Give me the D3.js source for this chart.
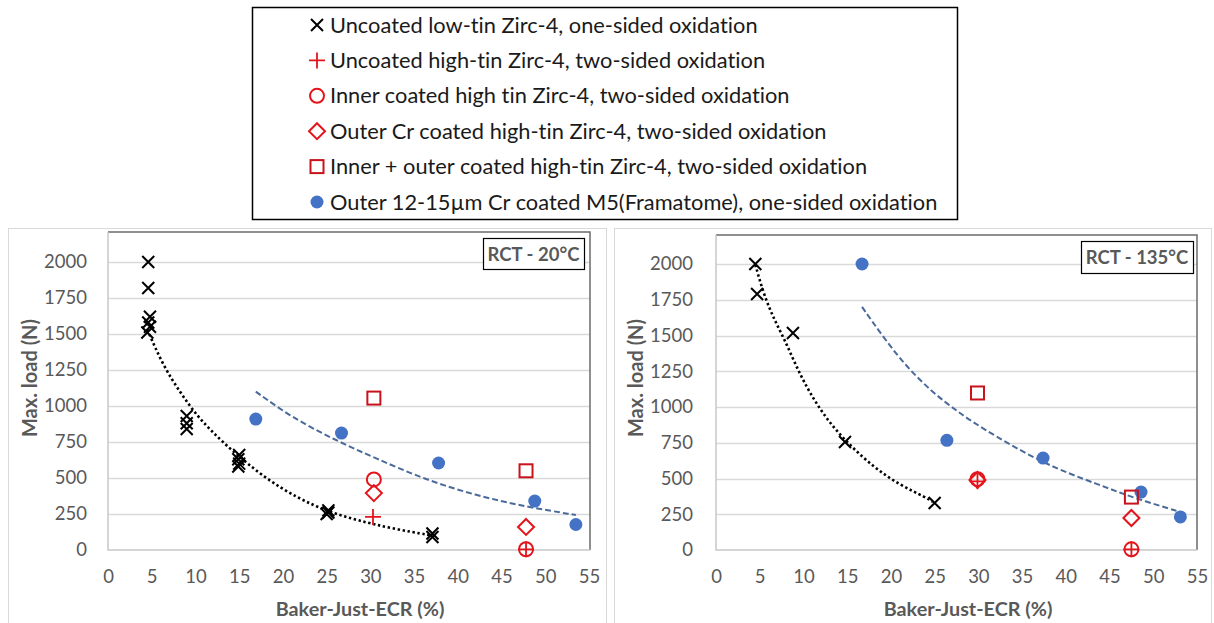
<!DOCTYPE html>
<html>
<head>
<meta charset="utf-8">
<script src="https://cdnjs.cloudflare.com/ajax/libs/d3/7.8.5/d3.min.js"></script>
<style>
  body { margin: 0; background: #fff; }
  svg text { font-family: Lato, "Open Sans", sans-serif; font-variant-ligatures: none; }
</style>
</head>
<body>
<div id="chart"></div>
<script>
//Legend entries
var legendLabels = [
  "Uncoated low-tin Zirc-4, one-sided oxidation",
  "Uncoated high-tin Zirc-4, two-sided oxidation",
  "Inner coated high tin Zirc-4, two-sided oxidation",
  "Outer Cr coated high-tin Zirc-4, two-sided oxidation",
  "Inner + outer coated high-tin Zirc-4, two-sided oxidation",
  "Outer 12-15\u00b5m Cr coated M5(Framatome), one-sided oxidation"
];
var legendMarkers = ["x", "plus", "circle", "diamond", "square", "dot"];

//Axis ticks
var xTicks = [0, 5, 10, 15, 20, 25, 30, 35, 40, 45, 50, 55];
var yTicks = [0, 250, 500, 750, 1000, 1250, 1500, 1750, 2000];

//RCT - 20°C  [ECR %, max load N]
var lowTin20 = [[4.6,2000],[4.6,1820],[4.8,1620],[4.6,1580],[4.8,1550],[4.5,1510],
                [9,930],[9,880],[9,840],[15,660],[14.9,630],[15,600],[14.9,580],
                [25.2,275],[25.2,260],[25,250],[37.1,115],[37.1,90]];
var highTin20 = [[30.3,230],[47.8,5]];
var inner20 = [[30.4,490],[47.8,5]];
var outerCr20 = [[30.4,395],[47.8,160]];
var innerOuter20 = [[30.4,1055],[47.8,550]];
var m5_20 = [[16.9,909],[26.7,812],[37.8,604],[48.8,340],[53.5,177]];
var trendBlack20 = [[4.5,1530],[6.3,1280],[8.3,1090],[10.2,930],[12.1,810],[14.0,700],
                    [17.8,505],[21.7,360],[25.2,265],[28.6,205],[32.4,150],[37.1,100]];
var trendBlue20 = [[16.9,1100],[20.9,925],[25.9,765],[30.5,640],[36.2,490],[42.0,380],
                   [47.8,300],[53.5,243]];

//RCT - 135°C
var lowTin135 = [[4.5,2000],[4.7,1790],[8.8,1517],[14.75,755],[25,329]];
var highTin135 = [[29.9,480],[47.5,5]];
var inner135 = [[29.9,495],[47.5,5]];
var outerCr135 = [[29.9,490],[47.5,224]];
var innerOuter135 = [[29.9,1098],[47.5,370]];
var m5_135 = [[16.7,2000],[26.4,767],[37.4,643],[48.6,405],[53.1,231]];
var trendBlack135 = [[4.5,1995],[5.4,1800],[6.5,1630],[7.9,1465],[9.2,1280],[10.7,1100],
                     [12.7,910],[15.0,750],[18.0,580],[21.0,455],[24.1,365],[24.8,336]];
var trendBlue135 = [[16.7,1700],[19.1,1490],[21.8,1280],[24.8,1100],[27.7,965],[29.8,875],
                    [37.4,600],[43.9,455],[47.7,365],[53.4,260]];

var red = "#e3141b", darkRed = "#c8131d", blue = "#4472c4", gray = "#595959";

var svg = d3.select("#chart").append("svg")
  .attr("width", 1214)
  .attr("height", 623);

//Draws one marker of a given type
function marker(g, type, cx, cy) {
  if (type == "x") {
    g.append("path")
      .attr("d", "M" + (cx-6) + "," + (cy-6) + "L" + (cx+6) + "," + (cy+6) +
                 "M" + (cx-6) + "," + (cy+6) + "L" + (cx+6) + "," + (cy-6))
      .attr("stroke", "#000").attr("stroke-width", 2).attr("fill", "none");
  } else if (type == "plus") {
    g.append("path")
      .attr("d", "M" + (cx-8) + "," + cy + "L" + (cx+8) + "," + cy +
                 "M" + cx + "," + (cy-8) + "L" + cx + "," + (cy+8))
      .attr("stroke", red).attr("stroke-width", 1.8).attr("fill", "none");
  } else if (type == "circle") {
    g.append("circle").attr("cx", cx).attr("cy", cy).attr("r", 7)
      .attr("stroke", red).attr("stroke-width", 2).attr("fill", "none");
  } else if (type == "diamond") {
    g.append("path")
      .attr("d", "M" + cx + "," + (cy-8) + "L" + (cx+8) + "," + cy + "L" + cx + "," + (cy+8) +
                 "L" + (cx-8) + "," + cy + "Z")
      .attr("stroke", red).attr("stroke-width", 2).attr("fill", "none");
  } else if (type == "square") {
    g.append("rect").attr("x", cx-6.5).attr("y", cy-6.5).attr("width", 13).attr("height", 13)
      .attr("stroke", darkRed).attr("stroke-width", 2).attr("fill", "none");
  } else {
    g.append("circle").attr("cx", cx).attr("cy", cy).attr("r", 6.5)
      .attr("fill", blue);
  }
}

//Legend
var legend = svg.append("g");
legend.append("rect")
  .attr("x", 252.5).attr("y", 7.5).attr("width", 705).attr("height", 212)
  .attr("fill", "#fff").attr("stroke", "#000").attr("stroke-width", 1.5);

legendLabels.forEach(function(d, i) {
  var ly = 25 + i * 35.4;
  marker(legend, legendMarkers[i], 317, ly);
  legend.append("text")
    .attr("x", 330).attr("y", ly)
    .attr("dy", "0.35em")
    .attr("font-size", 21.8)
    .attr("fill", "#1a1a1a")
    .text(d);
});

//Draws one chart panel
function panel(p) {
  var g = svg.append("g");

  var x = d3.scaleLinear().domain([0, 55]).range([p.left, p.right]);
  var y = d3.scaleLinear().domain([0, 2000]).range([550, p.y2000]);

  //Chart area frame
  g.append("rect")
    .attr("x", p.frame[0]).attr("y", p.frame[1])
    .attr("width", p.frame[2]).attr("height", p.frame[3])
    .attr("fill", "none").attr("stroke", "#d9d9d9");

  //Grid lines
  g.selectAll(".grid").data(yTicks.slice(1)).enter()
    .append("line")
    .attr("x1", p.left).attr("x2", p.plotRight)
    .attr("y1", function(d){ return Math.round(y(d)) + 0.5; })
    .attr("y2", function(d){ return Math.round(y(d)) + 0.5; })
    .attr("stroke", "#d9d9d9").attr("stroke-width", 1.5);

  //Plot border: dark top and right, light axes
  g.append("path")
    .attr("d", "M" + p.left + "," + p.top + "H" + p.plotRight + "V550")
    .attr("fill", "none").attr("stroke", "#6b6b6b").attr("stroke-width", 1.5);
  g.append("path")
    .attr("d", "M" + p.left + "," + p.top + "V550H" + p.plotRight)
    .attr("fill", "none").attr("stroke", "#c8c8c8").attr("stroke-width", 1.5);

  //Axes
  var xAxis = d3.axisBottom(x).tickValues(xTicks).tickSize(0).tickPadding(20);
  var yAxis = d3.axisLeft(y).tickValues(yTicks).tickFormat(d3.format("d"))
    .tickSize(0).tickPadding(p.left - p.yLabelRight);

  var gx = g.append("g").attr("transform", "translate(0,550)").call(xAxis);
  var gy = g.append("g").attr("transform", "translate(" + p.left + ",0)").call(yAxis);
  [gx, gy].forEach(function(a){
    a.select(".domain").remove();
    a.selectAll("text")
      .attr("font-family", "Lato, sans-serif")
      .attr("font-size", 18.5)
      .attr("fill", gray);
  });

  //Axis titles
  g.append("text")
    .attr("transform", "translate(" + p.yTitleX + ",378) rotate(-90)")
    .attr("text-anchor", "middle").attr("dy", "0.35em")
    .attr("font-size", 20).attr("font-weight", "bold").attr("fill", gray)
    .text("Max. load (N)");
  g.append("text")
    .attr("x", p.xTitleX).attr("y", 609)
    .attr("text-anchor", "middle").attr("dy", "0.35em")
    .attr("font-size", 19.8).attr("font-weight", "bold").attr("fill", gray)
    .text("Baker-Just-ECR (%)");

  //Trend lines
  var line = d3.line()
    .curve(d3.curveBasis)
    .x(function(d){ return x(d[0]); })
    .y(function(d){ return y(d[1]); });

  g.append("path").datum(p.trendBlack).attr("d", line)
    .attr("fill", "none").attr("stroke", "#000").attr("stroke-width", 2.6)
    .attr("stroke-dasharray", "2.4,2.6");
  g.append("path").datum(p.trendBlue).attr("d", line)
    .attr("fill", "none").attr("stroke", "#4a6a9a").attr("stroke-width", 2)
    .attr("stroke-dasharray", "6,3");

  //Markers
  p.series.forEach(function(s){
    s.data.forEach(function(d){ marker(g, s.type, x(d[0]), y(d[1])); });
  });

  //Condition label
  g.append("rect")
    .attr("x", p.box[0] + 0.5).attr("y", p.box[1] + 0.5)
    .attr("width", p.box[2]).attr("height", p.box[3])
    .attr("fill", "#fff").attr("stroke", "#000").attr("stroke-width", 1.2);
  g.append("text")
    .attr("x", p.box[0] + p.box[2] / 2).attr("y", p.box[1] + p.box[3] / 2 + 1)
    .attr("text-anchor", "middle").attr("dy", "0.35em")
    .attr("font-size", 18.5).attr("font-weight", "bold").attr("fill", gray)
    .text(p.title);
}

panel({
  left: 108, right: 589, plotRight: 590, top: 232, y2000: 262, yLabelRight: 87,
  frame: [8.5, 228.5, 598, 400], yTitleX: 30, xTitleX: 360,
  box: [483, 238, 101, 31], title: "RCT - 20\u00b0C",
  trendBlack: trendBlack20, trendBlue: trendBlue20,
  series: [
    {type: "x", data: lowTin20},
    {type: "dot", data: m5_20},
    {type: "square", data: innerOuter20},
    {type: "diamond", data: outerCr20},
    {type: "circle", data: inner20},
    {type: "plus", data: highTin20}
  ]
});

panel({
  left: 716, right: 1197, plotRight: 1197, top: 235, y2000: 264, yLabelRight: 693,
  frame: [614.5, 228.5, 597, 400], yTitleX: 636, xTitleX: 968,
  box: [1081, 241, 112, 32], title: "RCT - 135\u00b0C",
  trendBlack: trendBlack135, trendBlue: trendBlue135,
  series: [
    {type: "x", data: lowTin135},
    {type: "dot", data: m5_135},
    {type: "square", data: innerOuter135},
    {type: "diamond", data: outerCr135},
    {type: "circle", data: inner135},
    {type: "plus", data: highTin135}
  ]
});
</script>
</body>
</html>
